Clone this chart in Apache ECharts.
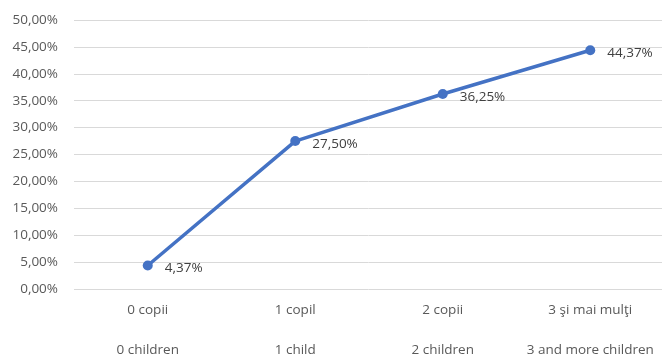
<!DOCTYPE html>
<html>
<head>
<meta charset="utf-8">
<script src="https://cdn.jsdelivr.net/npm/echarts@6/dist/echarts.min.js"></script>
<style>html,body{margin:0;padding:0;background:#fff}#c{width:662px;height:359px}</style>
</head>
<body>
<div id="c"></div>
<script>
var categoriesRo = ["0 copii", "1 copil", "2 copii", "3 şi mai mulţi"];
var categoriesEn = ["0 children", "1 child", "2 children", "3 and more children"];
var values = [4.37, 27.50, 36.25, 44.37];
var yMin = 0, yMax = 50, yStep = 5;

function fmt(v) { return v.toFixed(2).replace('.', ',') + '%'; }

var chart = echarts.init(document.getElementById('c'));
chart.setOption({
  animation: false,
  textStyle: { fontFamily: 'Open Sans' },
  grid: { left: 74, right: -2, top: 20, bottom: 70, containLabel: false, outerBoundsMode: 'none' },
  xAxis: {
    type: 'category',
    data: categoriesRo.map(function (r, i) { return r + '\n' + categoriesEn[i]; }),
    axisLine: { show: false },
    axisTick: { show: false },
    axisLabel: {
      interval: 0, hideOverlap: false,
      color: '#595959', fontSize: 13.5, margin: 1, lineHeight: 40,
      fontFamily: 'Open Sans',
      verticalAlign: 'top'
    }
  },
  yAxis: {
    type: 'value', min: yMin, max: yMax, interval: yStep,
    axisLabel: {
      color: '#595959', fontSize: 13.5, margin: 16, fontFamily: 'Open Sans',
      formatter: function (v) { return fmt(v); }
    },
    splitLine: { lineStyle: { color: '#d9d9d9', width: 1 } },
    axisLine: { show: false }, axisTick: { show: false }
  },
  series: [{
    type: 'line',
    data: values,
    symbol: 'circle',
    symbolSize: 10,
    lineStyle: { color: '#4472C4', width: 3.5 },
    itemStyle: { color: '#4472C4' },
    label: {
      show: true, position: 'right', distance: 12,
      offset: [0, 3],
      color: '#404040', fontSize: 13.5, fontFamily: 'Open Sans',
      formatter: function (p) { return fmt(p.value); }
    }
  }]
});
</script>
</body>
</html>
